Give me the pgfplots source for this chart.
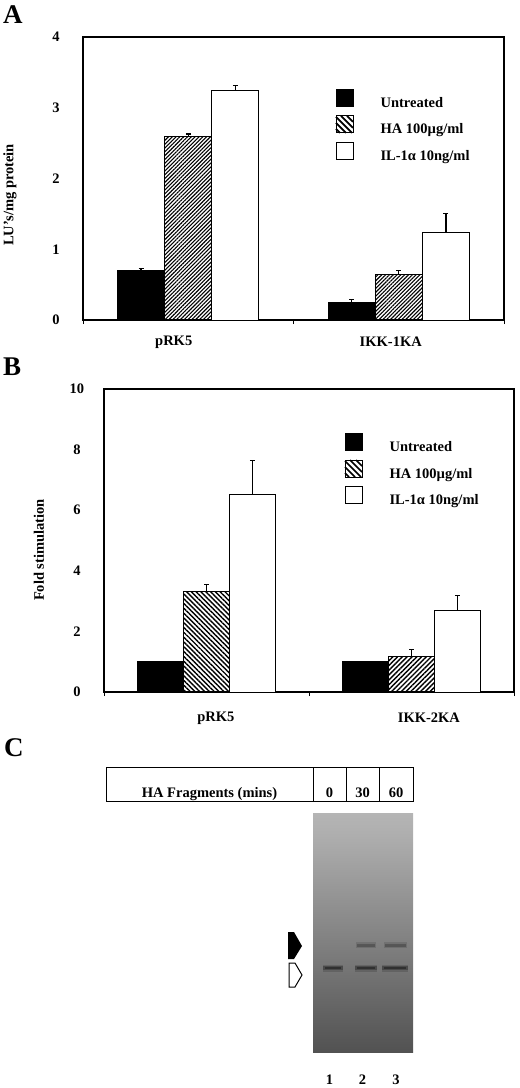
\documentclass[border=0pt]{standalone}
\usepackage{fontspec}
\setmainfont{Liberation Serif}
\usepackage{pgfplots}
\usepackage{pgfplotstable}
\pgfplotsset{compat=1.18}
\usetikzlibrary{patterns.meta}

\newcommand\lf{\fontsize{14.5bp}{16bp}\selectfont\bfseries}
\newcommand\bigf{\fontsize{27bp}{30bp}\selectfont\bfseries}

% Panel A: LU's/mg protein
\pgfplotstableread{
grp un    unE  ha   haE  il   ilE
0   0.70  0.03 2.60 0.03 3.24 0.08
1   0.245 0.04 0.64 0.06 1.24 0.26
}\dataA
% Panel B: fold stimulation
\pgfplotstableread{
grp un   unE  ha   haE  il   ilE
0   1.00 0.00 3.33 0.21 6.53 1.11
1   1.00 0.00 1.17 0.22 2.68 0.50
}\dataB

\pgfdeclareverticalshading{gel}{100bp}{color(0bp)=(black!88); color(12bp)=(black!78); color(35bp)=(black!60); color(50bp)=(black!48); color(70bp)=(black!32); color(100bp)=(black!14)}

\pgfplotsset{
  myerr/.style={error bars/.cd, y dir=plus, y explicit,
    error bar style={line width=1.2bp, black, solid},
    error mark options={rotate=90, mark size=2.5bp, line width=1.2bp, black}},
  panel/.style={
    scale only axis, anchor=south west, clip=false,
    xmin=-0.5, xmax=1.5, ymin=0,
    ytick style={draw=none},
    xtick={-0.5,0.5,1.5}, xticklabels={}, xtick pos=left,
    x tick style={black, line width=1bp}, tick align=outside, major tick length=4bp,
    axis line style={line width=1.2bp},
    tick label style={font=\lf},
    /pgf/number format/assume math mode=true,
    yticklabel style={anchor=center, xshift=-23bp},
    label style={font=\lf},
    ybar, bar width=0.224,
    legend style={draw=none, fill=none, inner sep=0pt, row sep=8bp, font=\lf,
      nodes={inner sep=0pt, text depth=0pt}},
    legend cell align=left,
  },
  blk/.style={fill=black, draw=black, line width=1bp, bar shift=-0.224,
    legend image code/.code={\fill[black] (0bp,-4bp) rectangle (17bp,13bp); \path (44bp,0bp);}},
  wht/.style={fill=white, draw=black, line width=1bp, bar shift=0.224,
    legend image code/.code={\draw[black, line width=1bp, fill=white] (0bp,-4bp) rectangle (17bp,13bp); \path (44bp,0bp);}},
  hlegend/.style={legend image code/.code={%
    \draw[black, line width=1.7bp, fill=none]
      (0bp,0bp) -- (4bp,-4bp)
      (0bp,6bp) -- (10bp,-4bp)
      (0bp,12bp) -- (16bp,-4bp)
      (5bp,13bp) -- (17bp,1bp)
      (11bp,13bp) -- (17bp,7bp);
    \draw[black, line width=1bp, fill=none] (0bp,-4bp) rectangle (17bp,13bp);
    \path[fill=none] (44bp,0bp);}},
}

\begin{document}
\begin{tikzpicture}
\path[use as bounding box] (0,0) rectangle (520bp,-1088bp);

% ---------------- Panel A ----------------
\begin{axis}[panel,
  at={(83bp,-320bp)}, width=421bp, height=283bp,
  ymax=4, ytick={0,1,2,3,4},
  ylabel={LU's/mg protein},
  ylabel style={at={([xshift=-73bp,yshift=-16.5bp]rel axis cs:0,0.5)}, anchor=center},
  legend style={at={(axis description cs:0.5986,0.8187)}, anchor=north west},
]
\addplot[blk, myerr] table[x=grp, y=un, y error=unE] {\dataA};
\addplot[draw=black, line width=1bp, bar shift=0,
  pattern={Lines[angle=45,distance=2.7bp,line width=1.1bp]}, pattern color=black,
  hlegend, myerr] table[x=grp, y=ha, y error=haE] {\dataA};
\addplot[wht, myerr] table[x=grp, y=il, y error=ilE] {\dataA};
\legend{Untreated, HA 100µg/ml, IL-1α 10ng/ml}
\node[font=\lf, yshift=-22bp] at (axis cs:-0.069,0) {pRK5};
\node[font=\lf, yshift=-22bp] at (axis cs:0.962,0) {IKK-1KA};
\end{axis}

% ---------------- Panel B ----------------
\begin{axis}[panel,
  at={(104bp,-692bp)}, width=410bp, height=303bp,
  ymax=10, ytick={0,2,4,6,8,10},
  ylabel={Fold stimulation},
  ylabel style={at={([xshift=-65bp,yshift=-9.5bp]rel axis cs:0,0.5)}, anchor=center},
  legend style={at={(axis description cs:0.5854,0.8548)}, anchor=north west, row sep=7.5bp},
]
\addplot[blk, myerr] table[x=grp, y=un, y error=unE] {\dataB};
\addplot[draw=black, line width=1bp, bar shift=0,
  pattern={Lines[angle=-45,distance=3.4bp,line width=1.4bp]}, pattern color=black,
  skip coords between index={1}{2},
  hlegend, myerr] table[x=grp, y=ha, y error=haE] {\dataB};
\addplot[wht, myerr] table[x=grp, y=il, y error=ilE] {\dataB};
\addplot[draw=black, line width=1bp, bar shift=0, forget plot,
  pattern={Lines[angle=45,distance=3.4bp,line width=1.4bp]}, pattern color=black,
  skip coords between index={0}{1},
  myerr] table[x=grp, y=ha, y error=haE] {\dataB};
\legend{Untreated, HA 100µg/ml, IL-1α 10ng/ml}
\node[font=\lf, yshift=-26bp] at (axis cs:0.046,0) {pRK5};
\node[font=\lf, yshift=-26bp] at (axis cs:1.085,0) {IKK-2KA};
\end{axis}

% ---------------- Panel letters ----------------
\node[font=\bigf, anchor=base west, inner sep=0pt] at (3bp,-23bp) {A};
\node[font=\bigf, anchor=base west, inner sep=0pt] at (3bp,-375bp) {B};
\node[font=\bigf, anchor=base west, inner sep=0pt] at (4bp,-756bp) {C};

% ---------------- Panel C ----------------
\begin{scope}[x=1bp,y=-1bp]
  % table header
  \draw[line width=0.9bp] (106,767) rectangle (413,801);
  \draw[line width=0.9bp] (313,767) -- (313,801) (346,767) -- (346,801) (379,767) -- (379,801);
  \node[font=\lf, anchor=base, inner sep=0pt] at (209.5,797) {HA Fragments (mins)};
  \node[font=\lf, anchor=base, inner sep=0pt] at (329.5,797) {0};
  \node[font=\lf, anchor=base, inner sep=0pt] at (362.5,797) {30};
  \node[font=\lf, anchor=base, inner sep=0pt] at (396,797) {60};
  % gel
  \shade[shading=gel] (313,813) rectangle (413,1052);
  % bands
  \foreach \a/\b in {323/343, 355/377, 382/408}{
    \draw[line width=7bp, black, opacity=0.15] (\a,968) -- (\b,968);
    \draw[line width=4bp, black, opacity=0.25] (\a,968) -- (\b,968);
    \draw[line width=1.8bp, black, opacity=0.35] (\a+2,968) -- (\b-2,968);
  }
  \foreach \a/\b in {356/376, 384/407}{
    \draw[line width=6bp, black, opacity=0.12] (\a,945) -- (\b,945);
    \draw[line width=3bp, black, opacity=0.22] (\a+1,945) -- (\b-1,945);
  }
  % arrows
  \fill[black] (288,932) -- (294,932) -- (302,946) -- (294,959) -- (288,959) -- cycle;
  \draw[line width=1bp, fill=white] (289,963) -- (295,963) -- (302,975) -- (295,987) -- (289,987) -- cycle;
  % lane numbers
  \node[font=\lf, anchor=base, inner sep=0pt] at (329.5,1084) {1};
  \node[font=\lf, anchor=base, inner sep=0pt] at (362.5,1084) {2};
  \node[font=\lf, anchor=base, inner sep=0pt] at (396,1084) {3};
\end{scope}
\end{tikzpicture}
\end{document}
